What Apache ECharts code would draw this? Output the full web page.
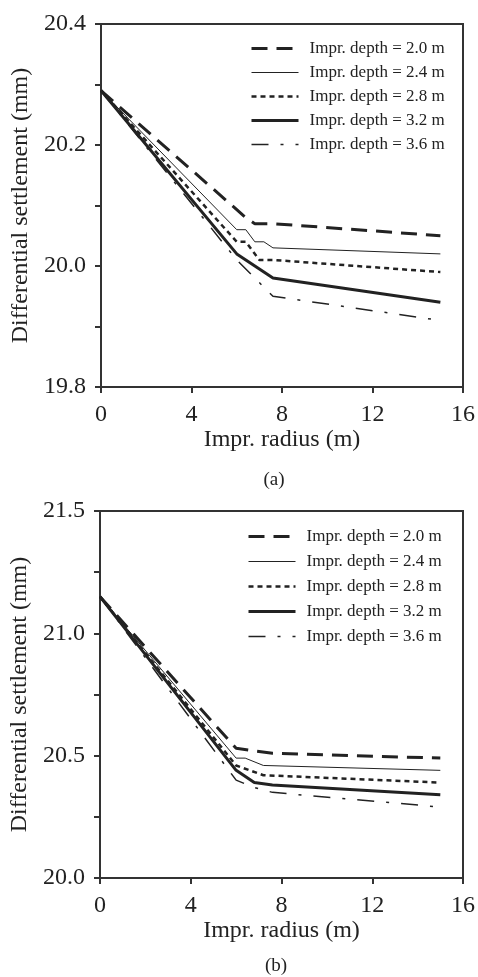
<!DOCTYPE html>
<html><head><meta charset="utf-8">
<script src="https://cdn.jsdelivr.net/npm/echarts@6/dist/echarts.min.js"></script>
<style>html,body{margin:0;padding:0;background:#fff}#c{width:478px;height:977px}</style>
</head><body><div id="c"></div>
<script>
// ---- data ----
const seriesNames = ['Impr. depth = 2.0 m','Impr. depth = 2.4 m','Impr. depth = 2.8 m','Impr. depth = 3.2 m','Impr. depth = 3.6 m'];
const xTicks = [0, 4, 8, 12, 16];
const yTicksA = [19.8, 20.0, 20.2, 20.4];
const yTicksB = [20.0, 20.5, 21.0, 21.5];
// chart (a)
const a_d20 = [[0,20.29],[6.4,20.08],[6.8,20.07],[7.6,20.07],[15,20.05]];
const a_d24 = [[0,20.29],[6,20.06],[6.4,20.06],[6.8,20.04],[7.2,20.04],[7.6,20.03],[15,20.02]];
const a_d28 = [[0,20.29],[6,20.04],[6.4,20.04],[7,20.01],[7.6,20.01],[15,19.99]];
const a_d32 = [[0,20.29],[6,20.02],[6.8,20.0],[7.6,19.98],[15,19.94]];
const a_d36 = [[0,20.29],[6,20.01],[6.8,19.98],[7.6,19.95],[15,19.91]];
// chart (b)
const b_d20 = [[0,21.15],[6,20.53],[7.6,20.51],[15,20.49]];
const b_d24 = [[0,21.15],[6,20.49],[6.4,20.49],[7.2,20.46],[15,20.44]];
const b_d28 = [[0,21.15],[6,20.46],[7.2,20.42],[15,20.39]];
const b_d32 = [[0,21.15],[6,20.44],[6.8,20.39],[7.6,20.38],[15,20.34]];
const b_d36 = [[0,21.15],[6,20.40],[6.8,20.37],[7.6,20.35],[15,20.29]];
const dataA = [a_d20, a_d24, a_d28, a_d32, a_d36];
const dataB = [b_d20, b_d24, b_d28, b_d32, b_d36];

// ---- styles ----
const FONT = "'Liberation Serif', 'Times New Roman', serif";
const INK = '#222';
const lineStyles = [
  {width: 3, type: [16, 9]},
  {width: 1, type: 'solid'},
  {width: 2.5, type: [5, 4]},
  {width: 3, type: 'solid'},
  {width: 1.5, type: [17, 12, 3, 12]}
];
const axisCommon = {
  axisLine: {show: true, onZero: false, lineStyle: {color: '#333', width: 2}},
  axisTick: {show: true, inside: false, length: 6, lineStyle: {color: '#333', width: 2}},
  splitLine: {show: false},
  axisLabel: {fontSize: 24, fontFamily: FONT, color: INK},
  nameTextStyle: {fontSize: 24, fontFamily: FONT, color: INK}
};
function xAxis(gi) {
  return Object.assign({}, axisCommon, {
    type: 'value', gridIndex: gi, min: xTicks[0], max: xTicks[xTicks.length-1], interval: xTicks[1]-xTicks[0],
    name: 'Impr. radius (m)', nameLocation: 'middle', nameGap: 38,
    axisLabel: Object.assign({}, axisCommon.axisLabel, {margin: 16})
  });
}
function yAxis(gi, ticks, interval) {
  return Object.assign({}, axisCommon, {
    type: 'value', gridIndex: gi, min: ticks[0], max: ticks[ticks.length-1], interval: interval,
    name: 'Differential settlement (mm)', nameLocation: 'middle', nameGap: 67,
    axisLabel: Object.assign({}, axisCommon.axisLabel, {margin: 15,
      formatter: function (v) {
        for (const t of ticks) if (Math.abs(t - v) < 1e-6) return t.toFixed(1);
        return '';
      }})
  });
}
const series = [];
[dataA, dataB].forEach(function (set, gi) {
  set.forEach(function (d, i) {
    series.push({
      type: 'line', name: seriesNames[i], xAxisIndex: gi, yAxisIndex: gi,
      data: d, symbol: 'none', showSymbol: false, animation: false, z: 2,
      color: INK,
      itemStyle: {color: INK},
      lineStyle: Object.assign({color: INK, cap: 'butt'}, lineStyles[i])
    });
  });
});
function legend(top, left, gap) {
  return {
    orient: 'vertical', top: top, left: left, padding: 0,
    itemWidth: 47, itemHeight: 14, itemGap: gap,
    data: seriesNames, selectedMode: false,
    itemStyle: {color: 'transparent', borderWidth: 0, opacity: 0},
    lineStyle: {width: 'inherit'},
    textStyle: {fontSize: 17, fontFamily: FONT, color: INK, lineHeight: 14, padding: [0, 0, 0, 6]}
  };
}
const chart = echarts.init(document.getElementById('c'), null, {renderer: 'canvas'});
chart.setOption({
  animation: false,
  backgroundColor: '#fff',
  grid: [
    {left: 101, top: 24, width: 362, height: 363, show: true, borderColor: '#333', borderWidth: 2, backgroundColor: 'transparent'},
    {left: 100, top: 511, width: 366, height: 367, show: true, borderColor: '#333', borderWidth: 2, backgroundColor: 'transparent'}
  ],
  xAxis: [xAxis(0), xAxis(1)],
  yAxis: [yAxis(0, yTicksA, 0.1), yAxis(1, yTicksB, 0.25)],
  legend: [legend(40, 250, 7), legend(528, 247, 8)],
  graphic: [
    {type: 'text', x: 274, y: 480, style: {text: '(a)', font: "19px " + FONT, fill: INK, textAlign: 'center', textVerticalAlign: 'middle'}},
    {type: 'text', x: 276, y: 966, style: {text: '(b)', font: "19px " + FONT, fill: INK, textAlign: 'center', textVerticalAlign: 'middle'}}
  ],
  series: series
});
</script>
</body></html>
